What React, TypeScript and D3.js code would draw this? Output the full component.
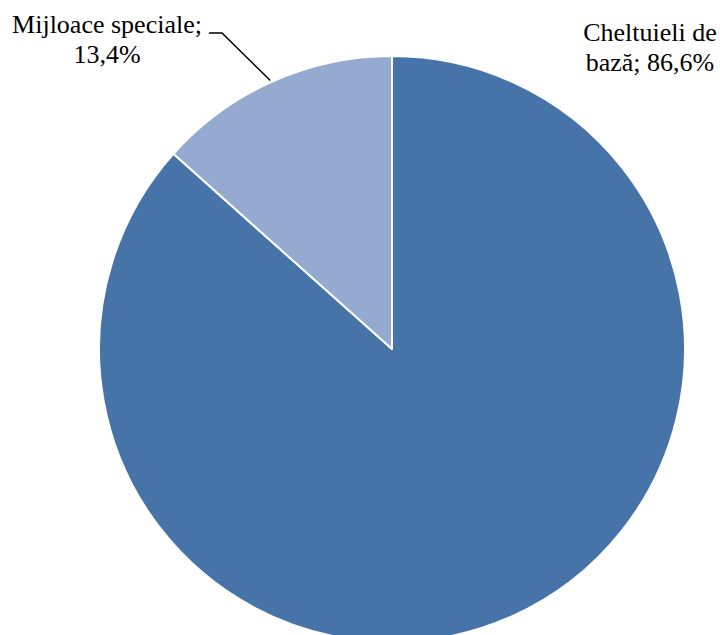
import React from "react";
import * as d3 from "d3";

const categories = ["Cheltuieli de bază", "Mijloace speciale"];
const values = [86.6, 13.4];
const labelLines = [
  ["Cheltuieli de", "bază; 86,6%"],
  ["Mijloace speciale;", "13,4%"],
];
const colors = ["#4674A8", "#95AAD0"];

export default function App() {
  const W = 720, H = 635;
  const cx = 392, cy = 349, r = 293;
  const pie = d3.pie<number>().sort(null).value((d) => d);
  const arcs = pie(values);
  const arcGen = d3.arc<d3.PieArcDatum<number>>().innerRadius(0).outerRadius(r);
  const labelPos = [
    { x: 650, y: 41 },
    { x: 107, y: 33 },
  ];
  // leader line for small slice
  const mid = (arcs[1].startAngle + arcs[1].endAngle) / 2;
  const edge = [cx + r * Math.sin(mid), cy - r * Math.cos(mid)];
  return (
    <div style={{ position: "absolute", left: 0, top: 0, width: W, height: H }}>
      <svg width={W} height={H} style={{ display: "block" }}>
        <rect width={W} height={H} fill="#fff" />
        <g transform={`translate(${cx},${cy})`}>
          {arcs.map((a, i) => (
            <path key={categories[i]} d={arcGen(a) || ""} fill={colors[i]} stroke="#fff" strokeWidth={2} strokeLinejoin="round" />
          ))}
        </g>
        <polyline
          points={`209,33 222,33 ${edge[0] - 2},${edge[1] - 1}`}
          fill="none"
          stroke="#000"
          strokeWidth={1.5}
        />
        {labelLines.map((lines, i) => (
          <text
            key={i}
            x={labelPos[i].x}
            y={labelPos[i].y}
            textAnchor="middle"
            fontFamily="'Liberation Serif', 'Times New Roman', serif"
            fontSize={26}
            fill="#000"
          >
            {lines.map((l, j) => (
              <tspan key={j} x={labelPos[i].x} dy={j === 0 ? 0 : 30}>
                {l}
              </tspan>
            ))}
          </text>
        ))}
      </svg>
    </div>
  );
}
